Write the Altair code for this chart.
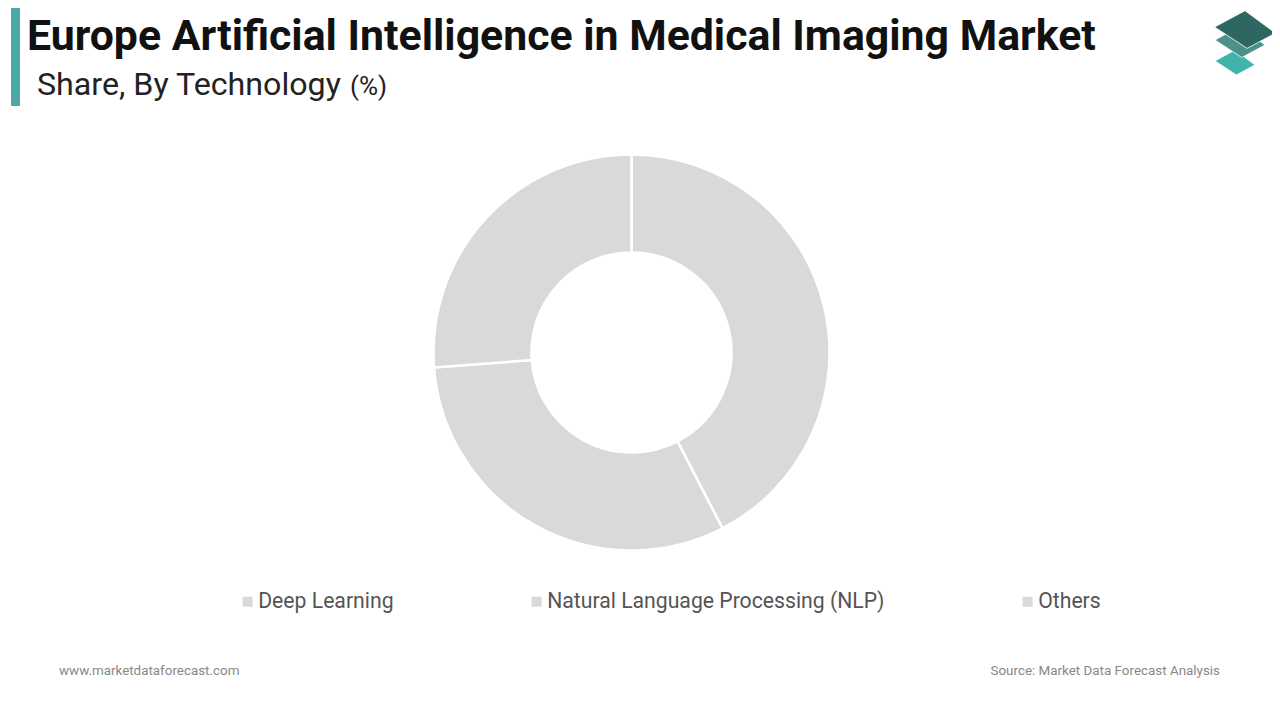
import altair as alt
import pandas as pd

categories = ["Deep Learning", "Natural Language Processing (NLP)", "Others"]
shares = [42.4, 31.4, 26.2]
order_idx = [0, 1, 2]

title_text = "Europe Artificial Intelligence in Medical Imaging Market"
subtitle_text = "Share, By Technology"
unit_text = "(%)"
footer_left = "www.marketdataforecast.com"
footer_right = "Source: Market Data Forecast Analysis"

logo_layers = ["bottom", "middle", "top"]
logo_colors = ["#40b4ac", "#4b908a", "#2e6761"]
logo_x = [1227, 1232, 1237]
logo_y = [54.5, 34, 21.5]
logo_size = [1600, 2500, 3700]

FONT = "Roboto"
W, H = 1264, 704

df = pd.DataFrame({"cat": categories, "share": shares, "ord": order_idx})

donut = alt.Chart(df).mark_arc(
    outerRadius=198, innerRadius=100, stroke="white", strokeWidth=2.5
).encode(
    theta=alt.Theta("share:Q", stack=True),
    order=alt.Order("ord:Q"),
    color=alt.Color(
        "cat:N",
        scale=alt.Scale(domain=categories, range=["#d9d9d9"] * 3),
        sort=categories,
        legend=alt.Legend(
            title=None,
            orient="none",
            legendX=229,
            legendY=583,
            direction="horizontal",
            symbolType="square",
            symbolSize=100,
            symbolStrokeWidth=0,
            symbolFillColor="#d6d6d6",
            labelFont=FONT,
            labelFontSize=21.2,
            labelColor="#555555",
            labelLimit=600,
            labelOffset=0,
            columnPadding=132,
        ),
    ),
    x=alt.value(623.5),
    y=alt.value(344.5),
)

base = alt.Chart(pd.DataFrame({"a": [0]}))

bar = base.mark_rule(color="#4aa9a6", strokeWidth=9).encode(
    x=alt.value(7.5), y=alt.value(0), y2=alt.value(98)
)

title = base.mark_text(
    text=title_text, font=FONT, fontSize=42.8, fontWeight="bold",
    color="#111111", align="left", baseline="alphabetic"
).encode(x=alt.value(19), y=alt.value(42))

subtitle = base.mark_text(
    text=subtitle_text, font=FONT, fontSize=32.2, color="#222222",
    align="left", baseline="alphabetic"
).encode(x=alt.value(29), y=alt.value(87))

unit = base.mark_text(
    text=unit_text, font=FONT, fontSize=26, color="#222222",
    align="left", baseline="alphabetic"
).encode(x=alt.value(342), y=alt.value(87))

foot_l = base.mark_text(
    text=footer_left, font=FONT, fontSize=13.4, color="#888888",
    align="left", baseline="alphabetic"
).encode(x=alt.value(51), y=alt.value(667))

foot_r = base.mark_text(
    text=footer_right, font=FONT, fontSize=13.4, color="#888888",
    align="right", baseline="alphabetic"
).encode(x=alt.value(1212), y=alt.value(667))

logo_df = pd.DataFrame({
    "layer": logo_layers, "color": logo_colors,
    "lx": logo_x, "ly": logo_y, "sz": logo_size,
})
logo = alt.Chart(logo_df).mark_point(
    shape="M0,-0.62L1,0.12L0.07,0.62L-1,-0.08Z", filled=True, opacity=1,
    stroke="white", strokeWidth=0.8
).encode(
    x=alt.X("lx:Q", scale=None),
    y=alt.Y("ly:Q", scale=None),
    size=alt.Size("sz:Q", scale=None, legend=None),
    color=alt.Color("color:N", scale=None, legend=None),
    order=alt.Order("sz:Q"),
)

chart = alt.layer(bar, title, subtitle, unit, donut, foot_l, foot_r, logo).properties(
    width=W, height=H, padding=0, autosize="none", background="white"
).configure_view(stroke=None)

chart.save("out.html", embed_options={"renderer": "svg", "actions": False})
